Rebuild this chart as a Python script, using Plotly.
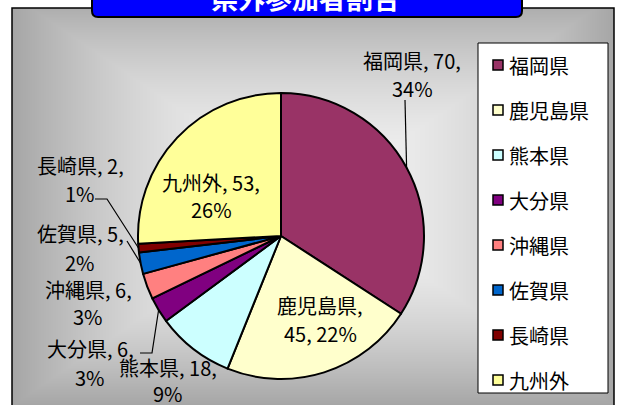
import base64, struct, zlib
import numpy as np
import plotly.graph_objects as go

# ---------------- data ----------------
categories = ["福岡県", "鹿児島県", "熊本県", "大分県", "沖縄県", "佐賀県", "長崎県", "九州外"]
values = [70, 45, 18, 6, 6, 5, 2, 53]
colors = ["#993366", "#FFFFCC", "#CCFFFF", "#800080", "#FF8080", "#0066CC", "#800000", "#FFFF99"]
title_text = "県外参加者割合"

# ---------------- layout constants (pixels) ----------------
W, H = 621, 405
CX, CY, R = 281, 236, 143
FONT = "Noto Sans CJK JP"
LBL_SIZE = 20
LEG_SIZE = 20

total = sum(values)
pcts = [round(v / total * 100) for v in values]

# label placement: (x center, y line1, y line2, break after name?, leader polyline start points)
label_pos = {
    "福岡県":   (412, 60, 88, False, [(405, 100)]),
    "鹿児島県": (320, 305, 333, True, None),
    "熊本県":   (168, 367, 393, False, None),
    "大分県":   (90, 348, 377, False, [(140, 353), (152, 353)]),
    "沖縄県":   (88, 289, 316, False, None),
    "佐賀県":   (80, 233, 262, False, [(127, 241)]),
    "長崎県":   (80, 165, 193, False, [(95, 199), (107, 199)]),
    "九州外":   (211, 182, 209, False, None),
}


def png_gray(arr):
    h, w = arr.shape
    raw = b"".join(b"\x00" + arr[i].astype(np.uint8).tobytes() for i in range(h))

    def chunk(t, d):
        c = struct.pack(">I", len(d)) + t + d
        return c + struct.pack(">I", zlib.crc32(t + d) & 0xFFFFFFFF)

    ihdr = struct.pack(">IIBBBBB", w, h, 8, 0, 0, 0, 0)
    return (b"\x89PNG\r\n\x1a\n" + chunk(b"IHDR", ihdr)
            + chunk(b"IDAT", zlib.compress(raw, 9)) + chunk(b"IEND", b""))


# background gradient (rectangular "from center")
BX0, BY0, BX1, BY1 = 12, 8, 614, 415
gw, gh = BX1 - BX0, BY1 - BY0
yy, xx = np.mgrid[0:gh, 0:gw]
gcx, gcy = gw / 2, 192
t = np.maximum(np.abs(xx - gcx) / (gw / 2), np.abs(yy - gcy) / 205.0)
t = np.clip(t, 0, 1)
grad = 244 - 78 * t ** 1.8
src = "data:image/png;base64," + base64.b64encode(png_gray(grad)).decode()

fig = go.Figure()
fig.add_trace(go.Scatter(x=[None], y=[None], showlegend=False, hoverinfo="skip"))
fig.add_trace(go.Pie(
    labels=categories, values=values, sort=False, direction="clockwise", rotation=0,
    marker=dict(colors=colors, line=dict(color="black", width=2)),
    textinfo="none", showlegend=False, hoverinfo="label+value+percent",
    domain=dict(x=[(CX - R) / W, (CX + R) / W], y=[1 - (CY + R) / H, 1 - (CY - R) / H]),
))

shapes = []
annotations = []

# outer chart area border
shapes.append(dict(type="rect", xref="x", yref="y", x0=BX0, y0=BY0, x1=BX1, y1=BY1 + 20,
                   line=dict(color="black", width=1.5), fillcolor="rgba(0,0,0,0)", layer="above"))

# data labels + leader lines
cum = 0
for cat, v, p in zip(categories, values, pcts):
    x, y1, y2, brk, leader = label_pos[cat]
    if brk:
        l1, l2 = f"{cat},", f"{v}, {p}%"
    else:
        l1, l2 = f"{cat}, {v},", f"{p}%"
    for txt, yy_ in ((l1, y1), (l2, y2)):
        annotations.append(dict(x=x, y=yy_, xref="x", yref="y", text=txt, showarrow=False,
                                xanchor="center", yanchor="middle",
                                font=dict(family=FONT, size=LBL_SIZE, color="black")))
    mid = np.radians((cum + v / 2) / total * 360)
    cum += v
    if leader:
        tip = (CX + R * np.sin(mid), CY - R * np.cos(mid))
        pts = leader + [tip]
        path = "M " + " L ".join(f"{a:.1f},{b:.1f}" for a, b in pts)
        shapes.append(dict(type="path", xref="x", yref="y", path=path,
                           line=dict(color="black", width=1.2), layer="above"))

# legend box
LX0, LY0, LX1, LY1 = 478, 43, 608, 393
shapes.append(dict(type="rect", xref="x", yref="y", x0=LX0, y0=LY0, x1=LX1, y1=LY1,
                   line=dict(color="black", width=1), fillcolor="white", layer="above"))
for i, (cat, col) in enumerate(zip(categories, colors)):
    yc = 65 + 45 * i
    shapes.append(dict(type="rect", xref="x", yref="y", x0=493, y0=yc - 5, x1=503, y1=yc + 5,
                       line=dict(color="black", width=1.5), fillcolor=col, layer="above"))
    annotations.append(dict(x=507, y=yc, xref="x", yref="y", text=cat, showarrow=False,
                            xanchor="left", yanchor="middle",
                            font=dict(family=FONT, size=LEG_SIZE, color="black")))

# title box
shapes.append(dict(type="path", xref="x", yref="y",
                   path="M 92,-10 L 92,11 Q 92,17 98,17 L 516,17 Q 522,17 522,11 L 522,-10 Z",
                   fillcolor="#0000FF", line=dict(color="black", width=2), layer="above"))
annotations.append(dict(x=305 / W, y=1 + 3 / H, xref="paper", yref="paper",
                        text=f"<b>{title_text}</b>", showarrow=False,
                        xanchor="center", yanchor="middle",
                        font=dict(family=FONT, size=27, color="white")))

fig.update_layout(
    width=W, height=H, margin=dict(l=0, r=0, t=0, b=0),
    paper_bgcolor="white", plot_bgcolor="rgba(0,0,0,0)",
    xaxis=dict(range=[0, W], visible=False, fixedrange=True, domain=[0, 1]),
    yaxis=dict(range=[H, 0], visible=False, fixedrange=True, domain=[0, 1]),
    shapes=shapes, annotations=annotations,
    images=[dict(source=src, xref="paper", yref="paper", x=BX0 / W, y=1 - BY0 / H,
                 sizex=gw / W, sizey=gh / H, xanchor="left", yanchor="top",
                 sizing="stretch", layer="below")],
    showlegend=False,
)

fig.write_html("out.html", config={"displayModeBar": False},
               post_script="document.body.style.margin='0';document.body.style.overflow='hidden';")
